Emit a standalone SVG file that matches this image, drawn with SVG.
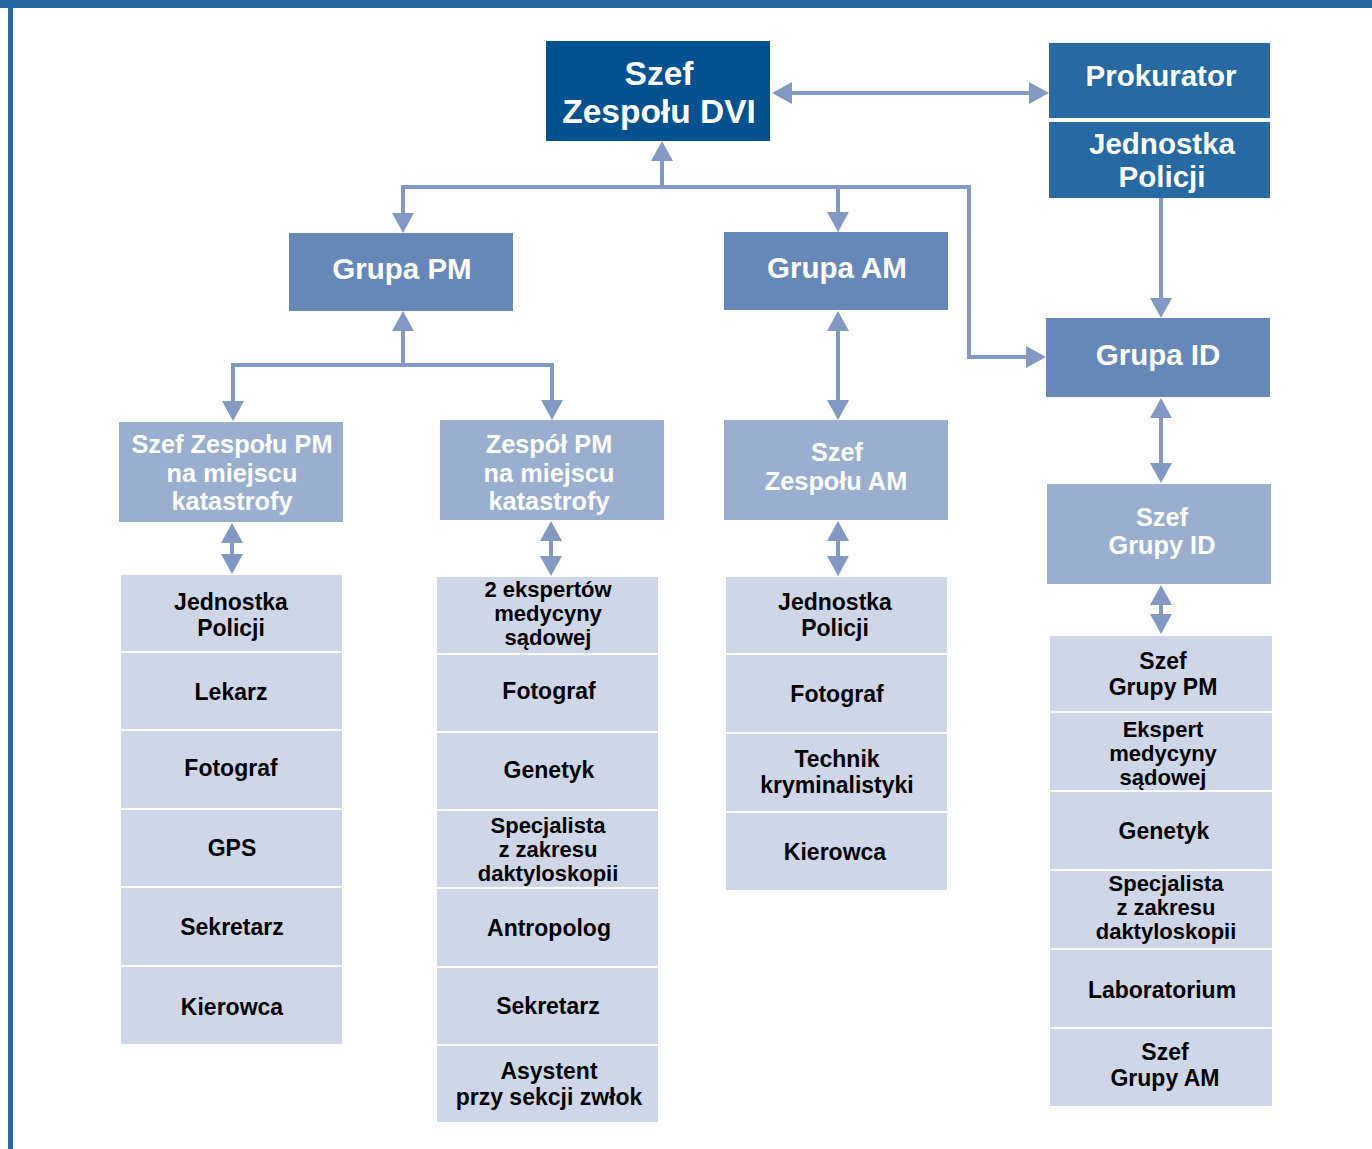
<svg xmlns="http://www.w3.org/2000/svg" width="1372" height="1149" viewBox="0 0 1372 1149">
<defs>
<marker id="ah" markerUnits="userSpaceOnUse" markerWidth="20" markerHeight="22" refX="10" refY="11" orient="auto-start-reverse" viewBox="0 0 20 22">
<path d="M0,0 L20,11 L0,22 z" fill="#8399c4"/>
</marker>
</defs>
<style>
text{font-family:"Liberation Sans",Arial,sans-serif;font-weight:bold;text-anchor:middle}
.w{fill:#ffffff}
.h1{font-size:33.5px}
.h2{font-size:29.5px}
.h3{font-size:25.3px}
.t{font-size:23px;fill:#000000}
.t3{font-size:22px}
.dk{fill:#03518f}
.md{fill:#2669a3}
.gr{fill:#6688b8}
.lt{fill:#9aaed0}
.ls{fill:#cfd6e8}
.c{fill:none;stroke:#8399c4;stroke-width:4}
</style>
<rect x="0" y="0" width="1372" height="1149" fill="#ffffff"/>
<rect x="0" y="0" width="1372" height="8" fill="#2568a2"/>
<rect x="8" y="8" width="5" height="1141" fill="#2568a2"/>

<g id="connectors">
<path class="c" d="M782,93 H1039" marker-start="url(#ah)" marker-end="url(#ah)"/>
<path class="c" d="M662,187 V151" marker-end="url(#ah)"/>
<path class="c" d="M403,223 V187 H969 V357 H1036" marker-start="url(#ah)" marker-end="url(#ah)"/>
<path class="c" d="M838,187 V222" marker-end="url(#ah)"/>
<path class="c" d="M1161,198 V308" marker-end="url(#ah)"/>
<path class="c" d="M403,365 V321" marker-end="url(#ah)"/>
<path class="c" d="M233,411 V365 H552 V410" marker-start="url(#ah)" marker-end="url(#ah)"/>
<path class="c" d="M838,321 V410" marker-start="url(#ah)" marker-end="url(#ah)"/>
<path class="c" d="M1161,408 V473" marker-start="url(#ah)" marker-end="url(#ah)"/>
<path class="c" d="M232,533 V564" marker-start="url(#ah)" marker-end="url(#ah)"/>
<path class="c" d="M551,531 V566" marker-start="url(#ah)" marker-end="url(#ah)"/>
<path class="c" d="M838,531 V566" marker-start="url(#ah)" marker-end="url(#ah)"/>
<path class="c" d="M1161,595 V624" marker-start="url(#ah)" marker-end="url(#ah)"/>
</g>

<g id="szef-dvi"><rect class="dk" x="546" y="41" width="224" height="100"/>
<text class="w h1" x="659" y="85">Szef</text><text class="w h1" x="659" y="123">Zespołu DVI</text></g>
<g id="prokurator"><rect class="md" x="1049" y="43" width="221" height="75"/>
<text class="w h2" x="1161" y="86">Prokurator</text></g>
<g id="jednostka-policji-top"><rect class="md" x="1049" y="122" width="221" height="76"/>
<text class="w h2" x="1162" y="154">Jednostka</text><text class="w h2" x="1162" y="187">Policji</text></g>

<g id="grupa-pm"><rect class="gr" x="289" y="233" width="224" height="78"/>
<text class="w h2" x="402" y="279">Grupa PM</text></g>
<g id="grupa-am"><rect class="gr" x="724" y="232" width="224" height="78"/>
<text class="w h2" x="837" y="278">Grupa AM</text></g>
<g id="grupa-id"><rect class="gr" x="1046" y="318" width="224" height="79"/>
<text class="w h2" x="1158" y="365">Grupa ID</text></g>

<g id="szef-zespolu-pm"><rect class="lt" x="119" y="422" width="224" height="100"/>
<text class="w h3" x="232" y="453">Szef Zespołu PM</text><text class="w h3" x="232" y="482">na miejscu</text><text class="w h3" x="232" y="510">katastrofy</text></g>
<g id="zespol-pm"><rect class="lt" x="440" y="420" width="224" height="100"/>
<text class="w h3" x="549" y="453">Zespół PM</text><text class="w h3" x="549" y="482">na miejscu</text><text class="w h3" x="549" y="510">katastrofy</text></g>
<g id="szef-zespolu-am"><rect class="lt" x="724" y="420" width="224" height="100"/>
<text class="w h3" x="837" y="461">Szef</text><text class="w h3" x="836" y="490">Zespołu AM</text></g>
<g id="szef-grupy-id"><rect class="lt" x="1047" y="484" width="224" height="100"/>
<text class="w h3" x="1162" y="526">Szef</text><text class="w h3" x="1162" y="554">Grupy ID</text></g>

<g id="col1-jednostka"><rect class="ls" x="121" y="575" width="221" height="76"/><text class="t" x="231" y="610">Jednostka</text><text class="t" x="231" y="636">Policji</text></g>
<g id="col1-lekarz"><rect class="ls" x="121" y="653" width="221" height="76"/><text class="t" x="231" y="700">Lekarz</text></g>
<g id="col1-fotograf"><rect class="ls" x="121" y="731" width="221" height="77"/><text class="t" x="231" y="776">Fotograf</text></g>
<g id="col1-gps"><rect class="ls" x="121" y="810" width="221" height="76"/><text class="t" x="232" y="856">GPS</text></g>
<g id="col1-sekretarz"><rect class="ls" x="121" y="888" width="221" height="77"/><text class="t" x="232" y="935">Sekretarz</text></g>
<g id="col1-kierowca"><rect class="ls" x="121" y="967" width="221" height="77"/><text class="t" x="232" y="1015">Kierowca</text></g>

<g id="col2-eksperci"><rect class="ls" x="437" y="577" width="221" height="76"/><text class="t t3" x="548" y="597">2 ekspertów</text><text class="t t3" x="548" y="621">medycyny</text><text class="t t3" x="548" y="645">sądowej</text></g>
<g id="col2-fotograf"><rect class="ls" x="437" y="655" width="221" height="76"/><text class="t" x="549" y="699">Fotograf</text></g>
<g id="col2-genetyk"><rect class="ls" x="437" y="733" width="221" height="76"/><text class="t" x="549" y="778">Genetyk</text></g>
<g id="col2-specjalista"><rect class="ls" x="437" y="811" width="221" height="76"/><text class="t t3" x="548" y="833">Specjalista</text><text class="t t3" x="548" y="857">z zakresu</text><text class="t t3" x="548" y="881">daktyloskopii</text></g>
<g id="col2-antropolog"><rect class="ls" x="437" y="889" width="221" height="77"/><text class="t" x="549" y="936">Antropolog</text></g>
<g id="col2-sekretarz"><rect class="ls" x="437" y="968" width="221" height="76"/><text class="t" x="548" y="1014">Sekretarz</text></g>
<g id="col2-asystent"><rect class="ls" x="437" y="1046" width="221" height="76"/><text class="t" x="549" y="1079">Asystent</text><text class="t" x="549" y="1105">przy sekcji zwłok</text></g>

<g id="col3-jednostka"><rect class="ls" x="726" y="577" width="221" height="76"/><text class="t" x="835" y="610">Jednostka</text><text class="t" x="835" y="636">Policji</text></g>
<g id="col3-fotograf"><rect class="ls" x="726" y="655" width="221" height="77"/><text class="t" x="837" y="702">Fotograf</text></g>
<g id="col3-technik"><rect class="ls" x="726" y="734" width="221" height="77"/><text class="t" x="837" y="767">Technik</text><text class="t" x="837" y="793">kryminalistyki</text></g>
<g id="col3-kierowca"><rect class="ls" x="726" y="813" width="221" height="77"/><text class="t" x="835" y="860">Kierowca</text></g>

<g id="col4-szef-pm"><rect class="ls" x="1050" y="636" width="222" height="75"/><text class="t" x="1163" y="669">Szef</text><text class="t" x="1163" y="695">Grupy PM</text></g>
<g id="col4-ekspert"><rect class="ls" x="1050" y="713" width="222" height="77"/><text class="t t3" x="1163" y="737">Ekspert</text><text class="t t3" x="1163" y="761">medycyny</text><text class="t t3" x="1163" y="785">sądowej</text></g>
<g id="col4-genetyk"><rect class="ls" x="1050" y="792" width="222" height="77"/><text class="t" x="1164" y="839">Genetyk</text></g>
<g id="col4-specjalista"><rect class="ls" x="1050" y="871" width="222" height="77"/><text class="t t3" x="1166" y="891">Specjalista</text><text class="t t3" x="1166" y="915">z zakresu</text><text class="t t3" x="1166" y="939">daktyloskopii</text></g>
<g id="col4-laboratorium"><rect class="ls" x="1050" y="950" width="222" height="77"/><text class="t" x="1162" y="998">Laboratorium</text></g>
<g id="col4-szef-am"><rect class="ls" x="1050" y="1029" width="222" height="77"/><text class="t" x="1165" y="1060">Szef</text><text class="t" x="1165" y="1086">Grupy AM</text></g>
</svg>
